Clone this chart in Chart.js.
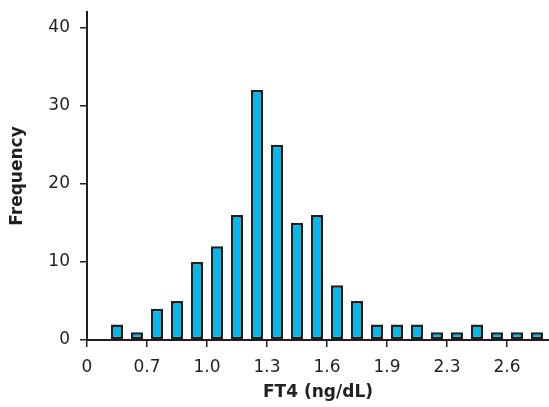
<!DOCTYPE html>
<html>
<head>
<meta charset="utf-8">
<script src="https://cdn.jsdelivr.net/npm/chart.js@4/dist/chart.umd.min.js"></script>
<style>
  html, body { margin: 0; padding: 0; background: #fff; }
  #wrap { width: 549px; height: 407px; }
</style>
</head>
<body>
<div id="wrap"><canvas id="c" width="549" height="407"></canvas></div>
<script>
// ---- data ----
const frequencies = [2, 1, 4, 5, 10, 12, 16, 32, 25, 15, 16, 7, 5, 2, 2, 2, 1, 1, 2, 1, 1, 1];
const xTickLabels = ['0', '0.7', '1.0', '1.3', '1.6', '1.9', '2.3', '2.6'];
const binsPerTick = 3;
const yTicks = [0, 10, 20, 30, 40];
const xTitle = 'FT4 (ng/dL)';
const yTitle = 'Frequency';

const ink = '#231f20';
const fontFamily = '"DejaVu Sans", Verdana, sans-serif';

// bins: first bin starts one slot after the origin, each bar centred in its slot
const points = frequencies.map((v, i) => ({ x: i + 1.5, y: v }));

new Chart(document.getElementById('c'), {
  type: 'bar',
  data: {
    datasets: [{
      data: points,
      backgroundColor: '#00b8ec',
      borderColor: ink,
      borderWidth: 2.5,
      borderSkipped: false,
      categoryPercentage: 1,
      barPercentage: 0.6
    }]
  },
  options: {
    responsive: false,
    animation: false,
    layout: { padding: { top: 12, right: 0, left: 0, bottom: 0 } },
    plugins: { legend: { display: false }, tooltip: { enabled: false } },
    scales: {
      x: {
        type: 'linear',
        offset: false,
        min: 0,
        max: 23.1,
        afterBuildTicks: (s) => { s.ticks = xTickLabels.map((_, i) => ({ value: i * binsPerTick })); },
        afterFit: (s) => { s.height = 67; s.paddingLeft = 0; s.paddingRight = 0; },
        ticks: {
          autoSkip: false,
          maxRotation: 0,
          padding: 10,
          color: ink,
          font: { family: fontFamily, size: 17 },
          callback: (v, i) => xTickLabels[i]
        },
        grid: { offset: false, drawOnChartArea: false, drawTicks: true, tickLength: 7, color: ink, lineWidth: 1.5 },
        border: { display: true, color: ink, width: 2 },
        title: {
          display: true, text: xTitle, color: ink,
          font: { family: fontFamily, size: 17, weight: 'bold' },
          padding: { top: 5 }
        }
      },
      y: {
        min: 0,
        max: 42,
        afterBuildTicks: (s) => { s.ticks = yTicks.map(v => ({ value: v })); },
        afterFit: (s) => { s.width = 87; s.paddingTop = 0; s.paddingBottom = 0; },
        ticks: {
          padding: 10,
          color: ink,
          font: { family: fontFamily, size: 17 }
        },
        grid: { drawOnChartArea: false, drawTicks: true, tickLength: 7, color: ink, lineWidth: 1.5 },
        border: { display: true, color: ink, width: 2 },
        title: {
          display: true, text: yTitle, color: ink,
          font: { family: fontFamily, size: 17, weight: 'bold' },
          padding: { bottom: 0, top: 7 }
        }
      }
    }
  }
});
</script>
</body>
</html>
